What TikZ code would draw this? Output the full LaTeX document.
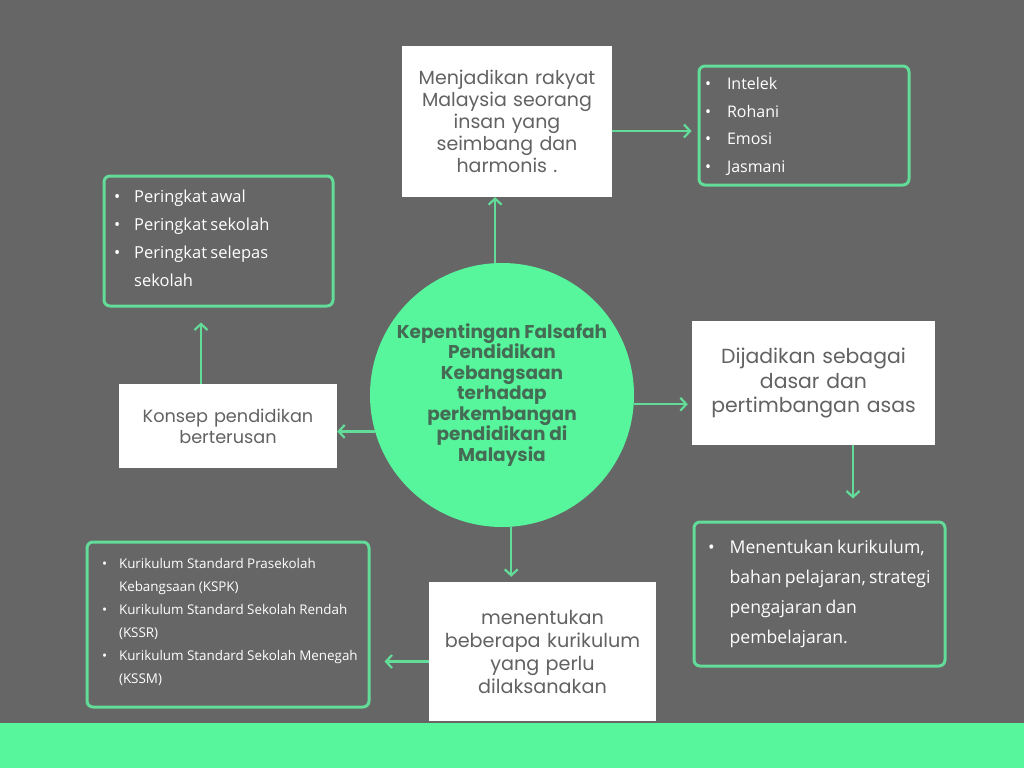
\documentclass[tikz,border=0pt]{standalone}
\usepackage{fontspec}
\setmainfont{Poppins}
\newfontfamily\listfont{Open Sans}
\usetikzlibrary{arrows.meta}
\definecolor{slate}{HTML}{666666}
\definecolor{mint}{HTML}{57F59C}
\definecolor{leaf}{HTML}{62DC98}
\definecolor{hubtext}{HTML}{456B55}
\definecolor{cardgray}{HTML}{626262}

\begin{document}
\begin{tikzpicture}[x=1pt,y=-1pt,
	card/.style={rectangle,fill=white,text=cardgray,inner sep=0pt,align=center},
	list/.style={rectangle,draw=leaf,line width=3pt,rounded corners=6pt,text=white,inner ysep=0pt,align=left,font=\listfont},
	hub/.style={circle,fill=mint,text=hubtext,inner sep=0pt,align=center,font=\bfseries\fontsize{18.5}{20.5}\selectfont},
	link/.style={draw=leaf,line width=2.2pt,-{Straight Barb[length=6pt,width=13pt,line width=2.2pt]}}]
% background and bottom band
\fill[slate] (0,0) rectangle (1024,768);
\fill[mint] (0,723) rectangle (1024,768);
% centre
\node[hub,minimum size=264pt] (hub) at (502,395)
	{Kepentingan Falsafah\\ Pendidikan\\ Kebangsaan\\ terhadap\\ perkembangan\\ pendidikan di\\ Malaysia};
% white cards
\node[card,minimum width=210pt,minimum height=151pt,text width=210pt,font=\fontsize{19}{22}\selectfont] (aim) at (507,121.5)
	{Menjadikan rakyat\\ Malaysia seorang\\ insan yang\\ seimbang dan\\ harmonis .};
\node[card,minimum width=218pt,minimum height=84pt,text width=218pt,font=\fontsize{17.7}{21}\selectfont] (konsep) at (228,426)
	{Konsep pendidikan\\ berterusan};
\node[card,minimum width=243pt,minimum height=124pt,text width=243pt,font=\fontsize{20.4}{24.5}\selectfont] (basis) at (813.5,383)
	{Dijadikan sebagai\\ dasar dan\\ pertimbangan asas};
\node[card,minimum width=227pt,minimum height=139pt,text width=227pt,font=\fontsize{19.2}{23}\selectfont] (curric) at (542.5,651.5)
	{menentukan\\ beberapa kurikulum\\ yang perlu\\ dilaksanakan};
% bullet lists
\node[list,minimum width=210pt,minimum height=119pt,text width=198pt,inner xsep=6pt] (domains) at (804,125.5)
	{\fontsize{16}{27.7}\selectfont
	\begin{tabular}{@{}l@{\hspace{16pt}}l@{}}
	\textbullet & Intelek\\ \textbullet & Rohani\\ \textbullet & Emosi\\ \textbullet & Jasmani
	\end{tabular}};
\node[list,minimum width=229pt,minimum height=130pt,text width=209pt,inner xsep=10pt] (stages) at (218.5,241)
	{\fontsize{16.5}{27.7}\selectfont
	\begin{tabular}{@{}l@{\hspace{14pt}}l@{}}
	\textbullet & Peringkat awal\\ \textbullet & Peringkat sekolah\\ \textbullet & Peringkat selepas\\ & sekolah\\[4pt]
	\end{tabular}};
\node[list,minimum width=251pt,minimum height=144pt,text width=223pt,inner xsep=14pt] (strategy) at (819.5,594)
	{\fontsize{17.6}{30}\selectfont
	\begin{tabular}{@{}l@{\hspace{15pt}}l@{}}
	\textbullet & Menentukan kurikulum,\\ & bahan pelajaran, strategi\\ & pengajaran dan\\ & pembelajaran.\\[4pt]
	\end{tabular}};
\node[list,minimum width=282pt,minimum height=165pt,text width=252pt,inner xsep=15pt] (kspk) at (228,624.5)
	{\fontsize{13.4}{23}\selectfont
	\begin{tabular}{@{}l@{\hspace{12pt}}l@{}}
	\textbullet & Kurikulum Standard Prasekolah\\ & Kebangsaan (KSPK)\\
	\textbullet & Kurikulum Standard Sekolah Rendah\\ & (KSSR)\\
	\textbullet & Kurikulum Standard Sekolah Menegah\\ & (KSSM)\\[6pt]
	\end{tabular}};
% connectors
\path[link] (hub.93.5) -- (hub.93.5 |- aim.south);
\path[link] ([yshift=-9.5pt]aim.east) -- ([xshift=-6pt,yshift=-9.5pt]aim.east -| domains.west);
\path[link] (hub.196) -- (hub.196 -| konsep.east);
\path[link] ([xshift=-27pt]konsep.north) -- ([xshift=-27pt,yshift=-15pt]konsep.north |- stages.south);
\path[link] (hub.356) -- ([xshift=-4pt]hub.356 -| basis.west);
\path[link] ([xshift=39.5pt]basis.south) -- ([xshift=39.5pt,yshift=22pt]basis.south |- strategy.north);
\path[link] (hub.274) -- ([yshift=5pt]hub.274 |- curric.north);
\path[link] ([yshift=-10pt]curric.west) -- ([xshift=14pt,yshift=-10pt]curric.west -| kspk.east);
\end{tikzpicture}
\end{document}
